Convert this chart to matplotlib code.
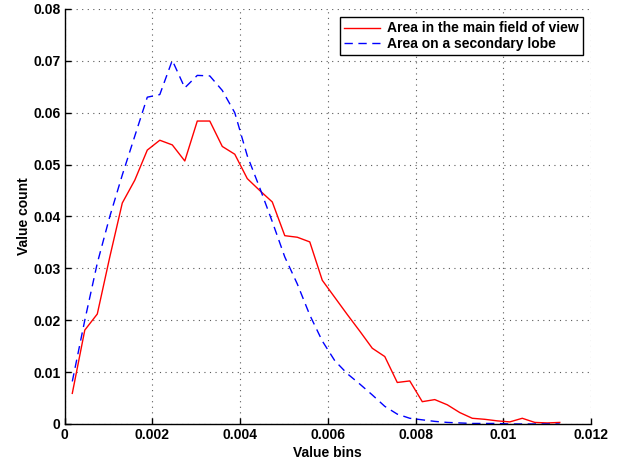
import matplotlib
matplotlib.use("Agg")
import matplotlib.pyplot as plt

bins = [0.000173, 0.000458, 0.000743, 0.001028, 0.001313, 0.001598, 0.001883,
        0.002168, 0.002453, 0.002738, 0.003023, 0.003308, 0.003593, 0.003878,
        0.004163, 0.004448, 0.004733, 0.005018, 0.005303, 0.005588, 0.005873,
        0.006158, 0.006443, 0.006728, 0.007013, 0.007298, 0.007583, 0.007868,
        0.008153, 0.008438, 0.008723, 0.009008, 0.009293, 0.009578, 0.009863,
        0.010148, 0.010433, 0.010718, 0.011003, 0.011288]

main_field = [0.0059, 0.0181, 0.0212, 0.0322, 0.0426, 0.0470, 0.0528, 0.0547,
              0.0538, 0.0507, 0.0584, 0.0584, 0.0535, 0.0520, 0.0473, 0.0450,
              0.0428, 0.0363, 0.0360, 0.0351, 0.0277, 0.0244, 0.0211, 0.0179,
              0.0146, 0.0130, 0.0080, 0.0083, 0.0043, 0.0047, 0.0037, 0.0022,
              0.0011, 0.0009, 0.0006, 0.0004, 0.0011, 0.0003, 0.0002, 0.0003]

secondary_lobe = [0.0082, 0.0200, 0.0310, 0.0400, 0.0480, 0.0555, 0.0630, 0.0635,
                  0.0701, 0.0648, 0.0672, 0.0671, 0.0643, 0.0600, 0.0517, 0.0455,
                  0.0390, 0.0322, 0.0270, 0.0210, 0.0160, 0.0122, 0.0097, 0.0077,
                  0.0056, 0.0034, 0.0019, 0.0011, 0.0008, 0.0005, 0.0003, 0.0002,
                  0.0001, 0.0001, 0.0001, 0.0, 0.0, 0.0, 0.0, 0.0]

labels = ["Area in the main field of view", "Area on a secondary lobe"]
x_ticks = [0, 0.002, 0.004, 0.006, 0.008, 0.01, 0.012]
x_tick_labels = ["0", "0.002", "0.004", "0.006", "0.008", "0.01", "0.012"]
y_ticks = [0, 0.01, 0.02, 0.03, 0.04, 0.05, 0.06, 0.07, 0.08]
y_tick_labels = ["0", "0.01", "0.02", "0.03", "0.04", "0.05", "0.06", "0.07", "0.08"]

plt.rcParams['font.family'] = ['Liberation Sans', 'DejaVu Sans']
plt.rcParams['font.weight'] = 'bold'

fig = plt.figure(figsize=(6.18, 4.61), dpi=100)
ax = fig.add_axes([0.1047, 0.0803, 0.8516, 0.9002])

ax.plot(bins, main_field, color='#ff0000', linewidth=1.0, linestyle='-', label=labels[0])
ax.plot(bins, secondary_lobe, color='#0000ff', linewidth=1.0, linestyle=(0, (6, 4)), label=labels[1])

ax.set_xlim(0, 0.012)
ax.set_ylim(0, 0.08)
ax.set_xticks(x_ticks)
ax.set_xticklabels(x_tick_labels, fontsize=10, fontweight='bold')
ax.set_yticks(y_ticks)
ax.set_yticklabels(y_tick_labels, fontsize=10, fontweight='bold')
ax.tick_params(direction='in', length=4, width=1, pad=3)

ax.grid(True, linestyle=(0, (1, 4)), color='0.35', linewidth=0.8)
ax.spines['top'].set_visible(False)
ax.spines['right'].set_visible(False)
ax.spines['left'].set_linewidth(1.0)
ax.spines['bottom'].set_linewidth(1.0)

ax.set_xlabel("Value bins", fontsize=10, fontweight='bold', labelpad=3)
ax.set_ylabel("Value count", fontsize=10, fontweight='bold', labelpad=1.5)

leg = ax.legend(loc='upper right', fontsize=10, frameon=True, fancybox=False,
                edgecolor='black', framealpha=1, handlelength=2.6,
                borderaxespad=0.6, borderpad=0.3, labelspacing=0.1, handletextpad=0.5)
leg.get_frame().set_linewidth(1.0)
for t in leg.get_texts():
    t.set_fontweight('bold')

fig.savefig("out.png", dpi=100)
